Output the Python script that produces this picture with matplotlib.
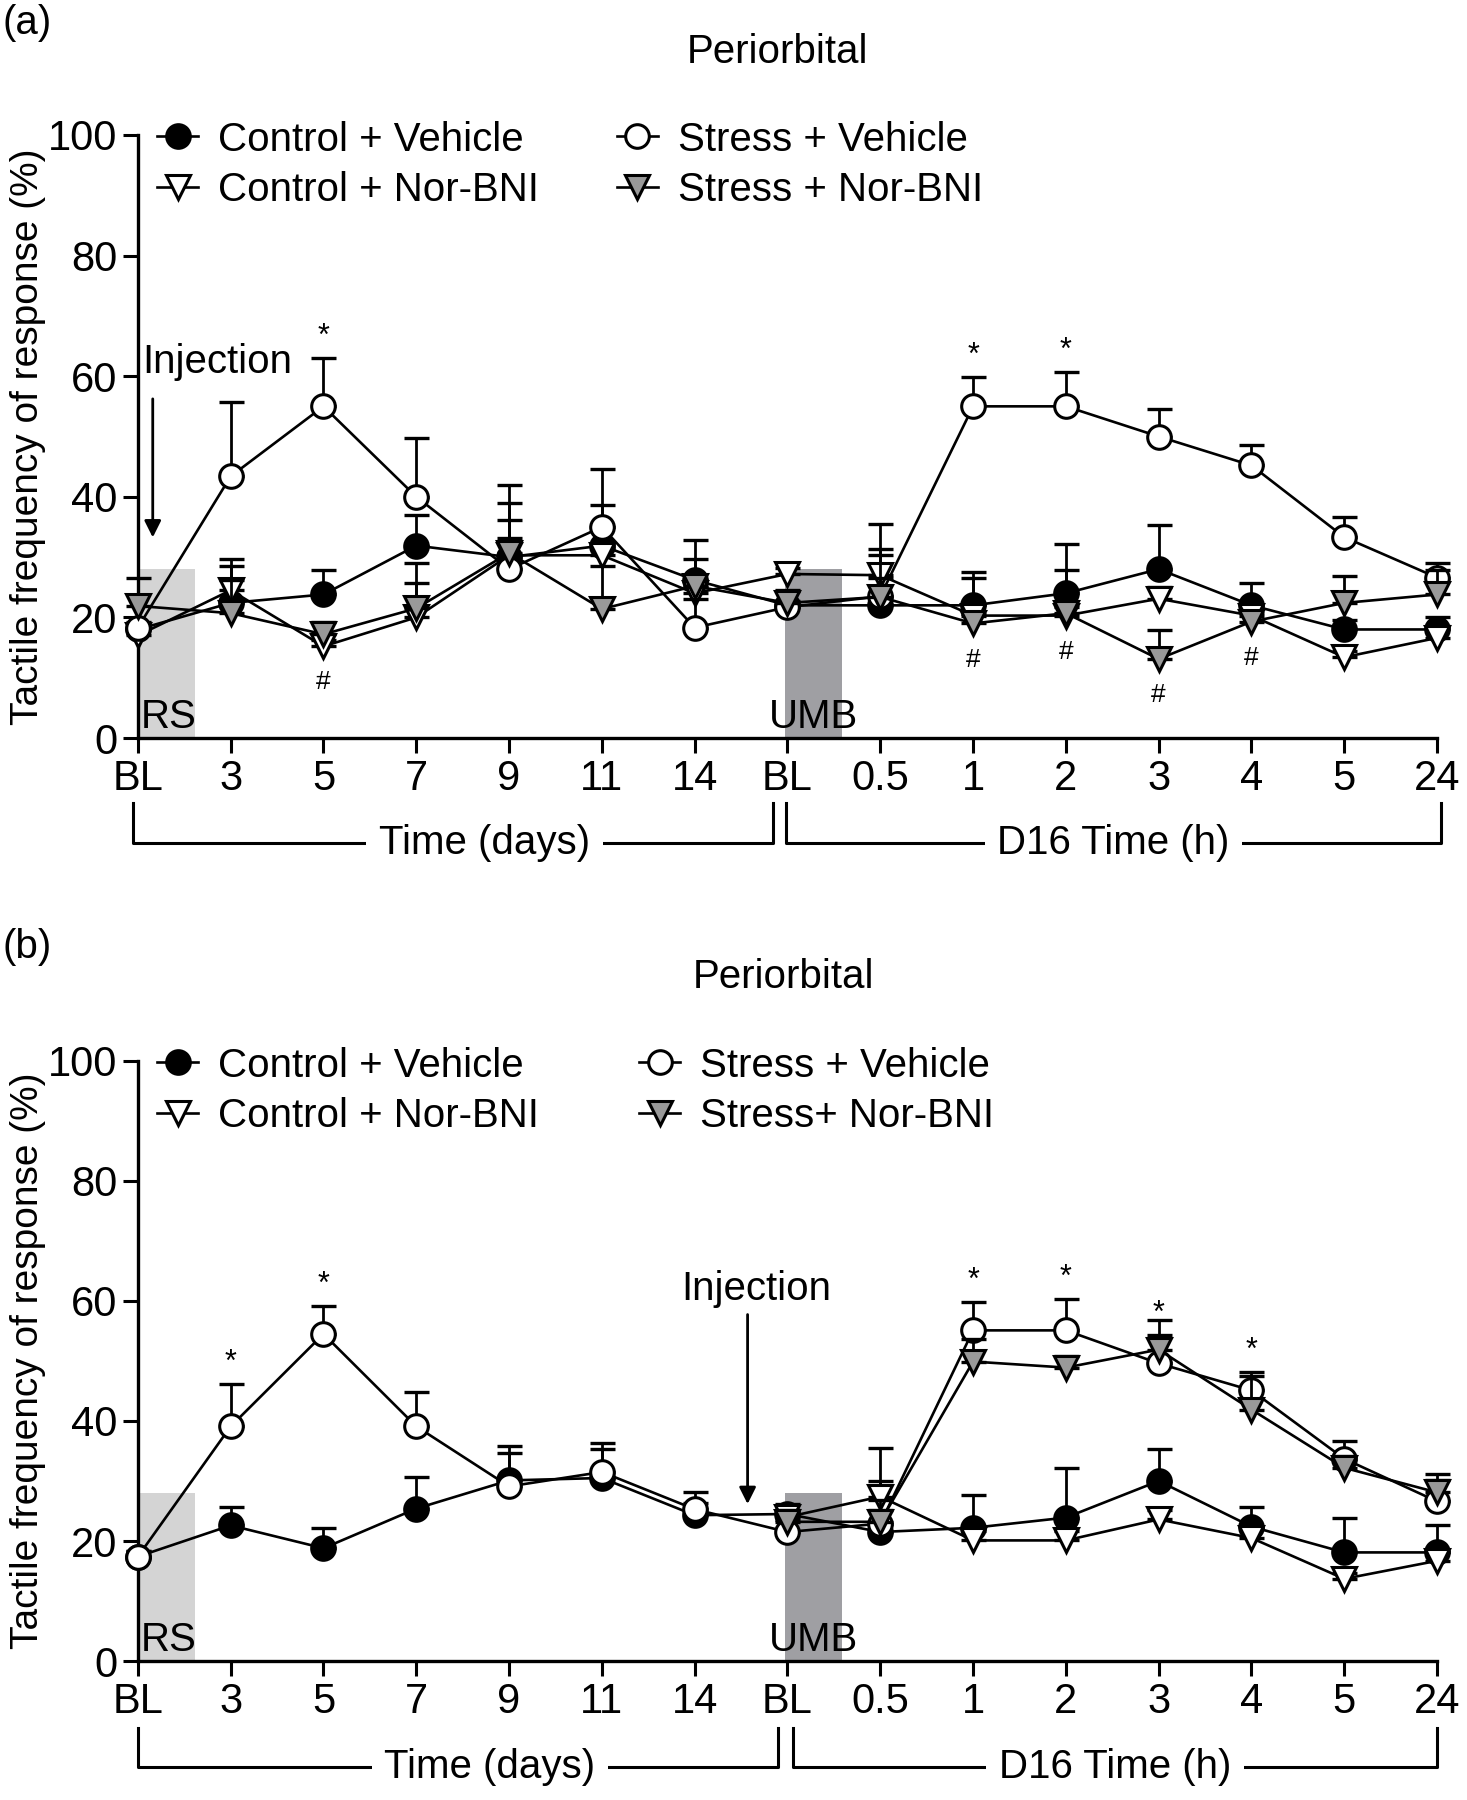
import numpy as np
import matplotlib
matplotlib.use("Agg")
import matplotlib.pyplot as plt
from matplotlib.patches import Rectangle
from matplotlib.lines import Line2D
import matplotlib.transforms as mtransforms

plt.rcParams["font.family"] = ["Liberation Sans", "DejaVu Sans"]

tick_labels = ["BL", "3", "5", "7", "9", "11", "14", "BL", "0.5", "1", "2", "3", "4", "5", "24"]
x = np.arange(len(tick_labels))
nan = np.nan

# panel (a): means and upper SEM
a_cv = [18.0, 22.4, 23.8, 31.9, 30.0, 31.9, 26.2, 22.0, 22.0, 22.0, 24.0, 28.0, 22.0, 18.0, 18.0]
a_cv_err = [1.0, 6.2, 4.1, 5.0, 9.0, 6.7, 6.6, 2.5, 8.3, 5.6, 8.1, 7.3, 3.7, 1.5, 2.0]
a_cn = [17.0, 24.5, 15.2, 20.0, 30.3, 30.3, 24.0, 27.2, 27.0, 20.3, 20.3, 23.1, 20.3, 13.4, 16.6]
a_cn_err = [1.0, 5.2, 1.0, 5.7, 2.9, 1.0, 1.0, 1.0, 8.5, 6.2, 1.5, 2.0, 1.5, 1.0, 2.0]
a_sv = [18.3, 43.4, 55.0, 40.0, 28.0, 35.0, 18.3, 21.7, 23.5, 55.0, 55.0, 50.0, 45.2, 33.3, 26.6]
a_sv_err = [1.0, 12.3, 8.1, 9.8, 8.2, 9.6, 4.8, 1.0, 3.0, 4.9, 5.7, 4.6, 3.4, 3.4, 2.4]
a_sn = [21.9, 20.7, 17.2, 21.5, 30.7, 21.4, 25.2, 22.4, 23.4, 19.0, 20.7, 13.1, 19.3, 22.4, 23.8]
a_sn_err = [4.7, 5.5, 2.0, 7.5, 11.2, 7.2, 4.5, 2.0, 8.0, 1.5, 7.2, 4.8, 1.5, 4.5, 4.0]
a_star = [2, 9, 10]
a_hash = [2, 9, 10, 11, 12]

# panel (b)
b_cv = [17.4, 22.6, 18.8, 25.4, 30.1, 30.5, 24.3, 24.5, 21.5, 22.2, 23.9, 30.0, 22.4, 18.1, 18.1]
b_cv_err = [1.0, 3.1, 3.4, 5.3, 4.5, 4.8, 2.0, 1.6, 8.5, 5.5, 8.2, 5.3, 3.3, 5.7, 4.6]
b_cn = [nan, nan, nan, nan, nan, nan, nan, 24.0, 27.4, 20.1, 20.1, 23.6, 20.5, 13.7, 16.7]
b_cn_err = [nan, nan, nan, nan, nan, nan, nan, 1.0, 8.1, 1.5, 1.5, 1.5, 1.5, 1.0, 1.5]
b_sv = [17.4, 39.1, 54.5, 39.1, 29.1, 31.5, 25.3, 21.5, 22.9, 55.1, 55.1, 49.6, 45.1, 33.7, 26.6]
b_sv_err = [1.0, 7.1, 4.7, 5.7, 6.8, 4.8, 2.8, 2.0, 4.0, 4.7, 5.2, 4.7, 3.1, 3.0, 4.6]
b_sn = [nan, nan, nan, nan, nan, nan, nan, 23.2, 23.2, 49.9, 48.9, 51.9, 41.9, 32.2, 28.1]
b_sn_err = [nan, nan, nan, nan, nan, nan, nan, 2.0, 2.0, 3.7, 2.0, 5.0, 5.6, 2.0, 2.0]
b_star = [1, 2, 9, 10, 11, 12]

FS = 29
LW = 1.9
MS = 17


def draw_series(ax, y, err, marker, face, z):
    y = np.array(y, dtype=float)
    err = np.array(err, dtype=float)
    ax.errorbar(x, y, yerr=[np.zeros_like(err), err], fmt="none", ecolor="black",
                elinewidth=2.0, capsize=9, capthick=2.4, zorder=z, clip_on=False)
    ax.plot(x, y, color="black", lw=LW, marker=marker, ms=MS, mfc=face, mec="black",
            mew=2.2, zorder=z + 0.5, clip_on=False)


def panel(ax, cv, cve, cn, cne, sv, sve, sn, sne, stars, hashes, inj, leg_x2, sn_label):
    ax.add_patch(Rectangle((0, 0), 0.62, 28, facecolor="#d4d4d4", edgecolor="none", zorder=0))
    ax.add_patch(Rectangle((6.97, 0), 0.62, 28, facecolor="#9f9fa3", edgecolor="none", zorder=0))
    ax.text(0.03, 0.3, "RS", fontsize=FS, ha="left", va="bottom", zorder=1)
    ax.text(7.28, 0.3, "UMB", fontsize=FS, ha="center", va="bottom", zorder=1)

    draw_series(ax, cv, cve, "o", "black", 3)
    draw_series(ax, cn, cne, "v", "white", 4)
    draw_series(ax, sv, sve, "o", "white", 5)
    draw_series(ax, sn, sne, "v", "#999999", 6)

    for i in stars:
        ax.text(x[i], sv[i] + sve[i] + 1.0, "*", fontsize=22, ha="center", va="bottom")
    for i in hashes:
        ref = min(v for v in (sn[i], cn[i]) if not np.isnan(v))
        ax.text(x[i], ref - 4.0, "#", fontsize=19, ha="center", va="top")

    # injection arrow
    ax.annotate("", xy=(inj[0], inj[2]), xytext=(inj[0], inj[1]),
                arrowprops=dict(arrowstyle="-|>", color="black", lw=2, mutation_scale=25))
    ax.text(inj[3], inj[4], "Injection", fontsize=FS, ha="center", va="center")

    ax.set_xlim(0, 14)
    ax.set_ylim(0, 100)
    ax.set_xticks(x)
    ax.set_xticklabels(tick_labels)
    ax.set_yticks([0, 20, 40, 60, 80, 100])
    ax.tick_params(labelsize=30, width=2.2, length=11, pad=4)
    for s in ["top", "right"]:
        ax.spines[s].set_visible(False)
    for s in ["left", "bottom"]:
        ax.spines[s].set_linewidth(2.4)
    ax.set_ylabel("Tactile frequency of response (%)", fontsize=28)
    ax.yaxis.set_label_coords(-0.071, 0.5)

    h_cv = Line2D([], [], color="black", lw=LW, marker="o", ms=MS, mfc="black", mec="black", mew=2.2)
    h_cn = Line2D([], [], color="black", lw=LW, marker="v", ms=MS, mfc="white", mec="black", mew=2.2)
    h_sv = Line2D([], [], color="black", lw=LW, marker="o", ms=MS, mfc="white", mec="black", mew=2.2)
    h_sn = Line2D([], [], color="black", lw=LW, marker="v", ms=MS, mfc="#999999", mec="black", mew=2.2)
    kw = dict(fontsize=FS, frameon=False, handlelength=1.0, handletextpad=0.5,
              labelspacing=0.3, borderpad=0, borderaxespad=0, loc="upper left")
    l1 = ax.legend([h_cv, h_cn], ["Control + Vehicle", "Control + Nor-BNI"],
                   bbox_to_anchor=(0.015, 1.024), **kw)
    ax.add_artist(l1)
    ax.legend([h_sv, h_sn], ["Stress + Vehicle", sn_label],
              bbox_to_anchor=(leg_x2, 1.024), **kw)


def brackets(ax, y_top, y_bot, left, right, lab_l, lab_r, shift_l):
    tr = mtransforms.blended_transform_factory(ax.transData, ax.transAxes)
    for (x0, x1), lab, sh in ((left, lab_l, shift_l), (right, lab_r, 0.0)):
        ax.plot([x0, x0, x1, x1], [y_top, y_bot, y_bot, y_top], color="black", lw=2.2,
                transform=tr, clip_on=False)
        ax.text((x0 + x1) / 2 + sh, y_bot, lab, fontsize=FS,
                ha="center", va="center", transform=tr,
                bbox=dict(facecolor="white", edgecolor="none", pad=9))


fig = plt.figure(figsize=(14.67, 18.0), dpi=100)
ax1 = fig.add_axes([0.094, 0.590, 0.8856, 0.335])
ax2 = fig.add_axes([0.094, 0.0772, 0.8856, 0.3334])

panel(ax1, a_cv, a_cv_err, a_cn, a_cn_err, a_sv, a_sv_err, a_sn, a_sn_err,
      a_star, a_hash, (0.16, 56.7, 32.8, 0.86, 62.4), 0.369, "Stress + Nor-BNI")
panel(ax2, b_cv, b_cv_err, b_cn, b_cn_err, b_sv, b_sv_err, b_sn, b_sn_err,
      b_star, [], (6.57, 58.2, 25.7, 6.66, 62.0), 0.386, "Stress+ Nor-BNI")

brackets(ax1, -0.108, -0.174, (-0.05, 6.84), (6.98, 14.04), "Time (days)", "D16 Time (h)", 0.34)
brackets(ax2, -0.112, -0.177, (0.0, 6.9), (7.06, 14.0), "Time (days)", "D16 Time (h)", 0.34)

fig.text(0.53, 0.971, "Periorbital", fontsize=FS, ha="center", va="center")
fig.text(0.534, 0.457, "Periorbital", fontsize=FS, ha="center", va="center")
fig.text(0.002, 0.987, "(a)", fontsize=FS, ha="left", va="center")
fig.text(0.002, 0.474, "(b)", fontsize=FS, ha="left", va="center")

fig.savefig("out.png", dpi=100)
